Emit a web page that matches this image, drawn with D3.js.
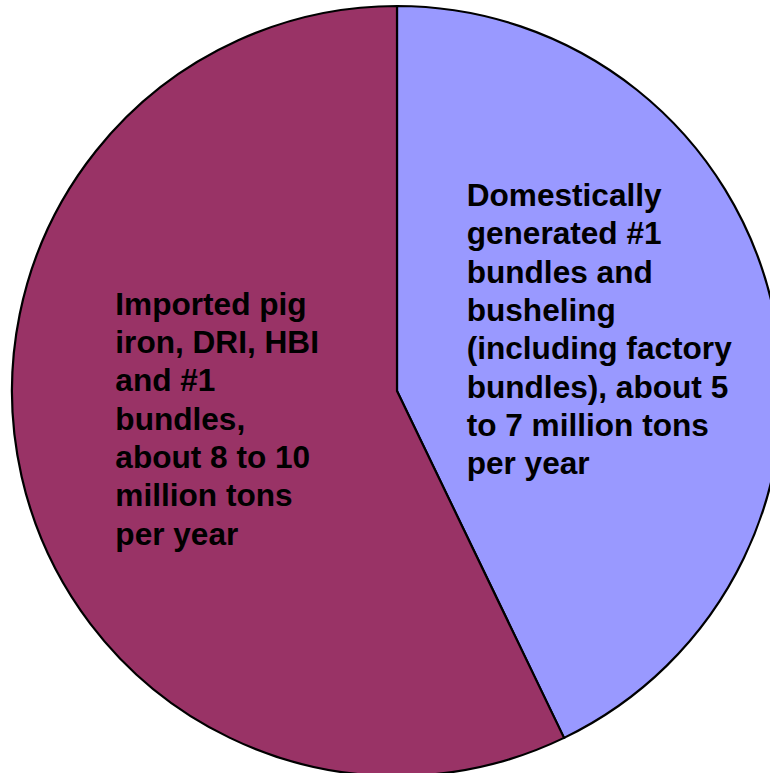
<!DOCTYPE html>
<html>
<head>
<meta charset="utf-8">
<script src="https://cdn.jsdelivr.net/npm/d3@7"></script>
<style>
  html, body { margin: 0; padding: 0; background: #ffffff; overflow: hidden; }
  svg { display: block; }
</style>
</head>
<body>
<svg id="chart" width="770" height="773"></svg>
<script>
// Scrap supply sources (million tons per year, mid-range estimates)
const categories = ["Domestic #1 bundles and busheling", "Imported pig iron, DRI, HBI and #1 bundles"];
const values = [6, 8];
const colors = ["#9999FF", "#993366"];
const labelLines = [
  ["Domestically", "generated #1", "bundles and", "busheling", "(including factory", "bundles), about 5", "to 7 million tons", "per year"],
  ["Imported pig", "iron, DRI, HBI", "and #1", "bundles,", "about 8 to 10", "million tons", "per year"]
];

const svg = d3.select("#chart");
const cx = 397, cy = 391, radius = 385;
const g = svg.append("g").attr("transform", `translate(${cx},${cy})`);

const pie = d3.pie().sort(null).value(d => d.value);
const data = pie(categories.map((c, i) => ({ name: c, value: values[i], color: colors[i], lines: labelLines[i] })));
const arc = d3.arc().innerRadius(0).outerRadius(radius);

g.selectAll("path.slice")
  .data(data)
  .join("path")
  .attr("class", "slice")
  .attr("d", arc)
  .attr("fill", d => d.data.color)
  .attr("stroke", "#000")
  .attr("stroke-width", 2.2)
  .attr("stroke-linejoin", "miter");

// Label blocks: left-aligned text placed from each slice's centroid
const fontSize = 31.6, lineH = 38.3;
const labelArc = d3.arc().innerRadius(radius * 0.5).outerRadius(radius * 0.5);
const blockOffsets = [[-118, -142], [-94, -119]];

data.forEach((d, i) => {
  const [mx, my] = labelArc.centroid(d);
  const x0 = mx + blockOffsets[i][0];
  const y0 = my + blockOffsets[i][1];
  const t = g.append("text")
    .attr("font-family", "'Liberation Sans', Arial, sans-serif")
    .attr("font-weight", "bold")
    .attr("font-size", fontSize)
    .attr("fill", "#000");
  d.data.lines.forEach((line, k) => {
    t.append("tspan").attr("x", x0).attr("y", y0 + k * lineH).text(line);
  });
});
</script>
</body>
</html>
